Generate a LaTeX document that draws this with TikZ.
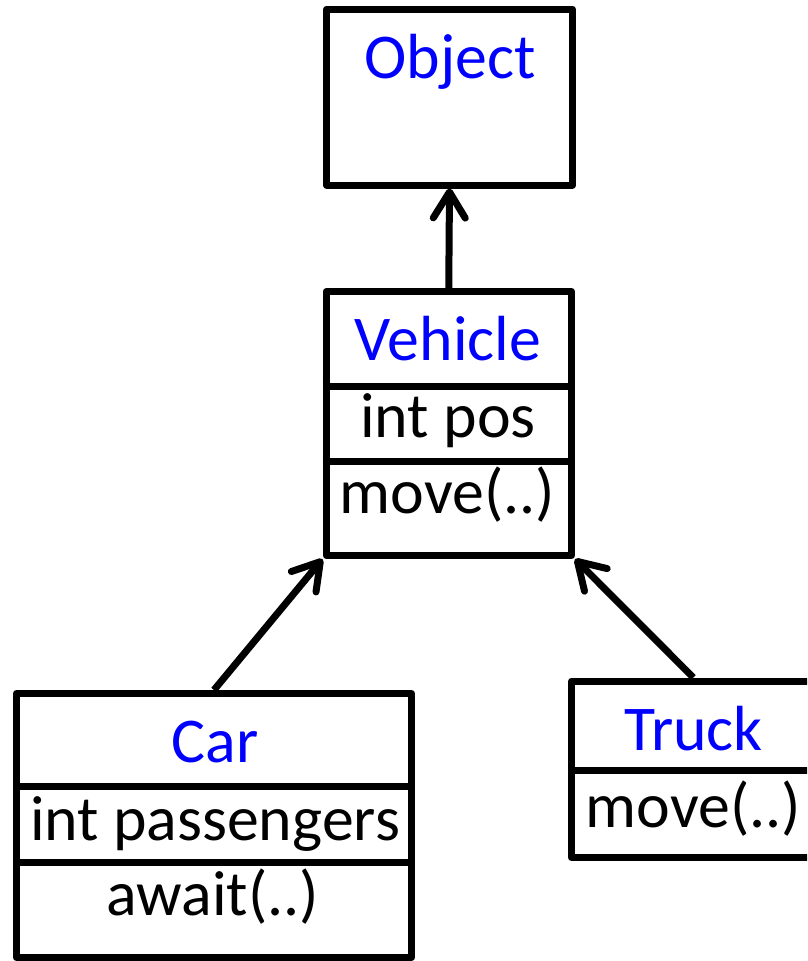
\documentclass[tikz,border=0pt]{standalone}
\usepackage{fontspec}
\setmainfont{Carlito}
\usetikzlibrary{arrows.meta}
\definecolor{clsblue}{RGB}{0,0,255}
\begin{document}
\begin{tikzpicture}[x=1pt,y=-1pt,line width=7pt,line join=round,
  box/.style={draw,rectangle,inner sep=0pt},
  lbl/.style={inner sep=0pt,anchor=base,font=\fontsize{63.8pt}{75pt}\selectfont},
  cname/.style={lbl,text=clsblue},
  inh/.style={-{Straight Barb[length=26pt 0,width=32pt 0,round]}}]
\useasboundingbox (0,0) rectangle (807,961);
\clip (0,0) rectangle (807,961);
% Object
\node[box,minimum width=246pt,minimum height=176pt] (obj) at (449.5,97) {};
\node[cname] (objname) at (450,78) {Object};
% Vehicle
\node[box,minimum width=245.5pt,minimum height=264pt] (veh) at (448.75,423.5) {};
\coordinate (vd1) at (0,386.5);
\coordinate (vd2) at (0,461.5);
\draw (veh.west |- vd1) -- (veh.east |- vd1);
\draw (veh.west |- vd2) -- (veh.east |- vd2);
\node[cname] (vehname) at (448,360) {Vehicle};
\node[lbl] (vehattr) at (448,437) {int pos};
\node[lbl] (vehop) at (447.5,513) {move(..)};
% Car
\node[box,minimum width=395pt,minimum height=264pt] (car) at (214,825.5) {};
\coordinate (cd1) at (0,786.5);
\coordinate (cd2) at (0,862);
\draw (car.west |- cd1) -- (car.east |- cd1);
\draw (car.west |- cd2) -- (car.east |- cd2);
\node[cname] (carname) at (215,762) {Car};
\node[lbl] (carattr) at (215,840) {int passengers};
\node[lbl] (carop) at (213,915) {await(..)};
% Truck
\node[box,minimum width=243.5pt,minimum height=176.5pt] (truck) at (693.25,769.25) {};
\coordinate (td1) at (0,770);
\draw (truck.west |- td1) -- (truck.east |- td1);
\node[cname] (truckname) at (693.5,750) {Truck};
\node[lbl] (truckop) at (693.5,827) {move(..)};
% Inheritance arrows
\draw[inh] (veh.north) -- (obj.south);
\draw[inh] (car.north) -- (veh.south west);
\draw[inh] (truck.north) -- (veh.south east);
\end{tikzpicture}
\end{document}
